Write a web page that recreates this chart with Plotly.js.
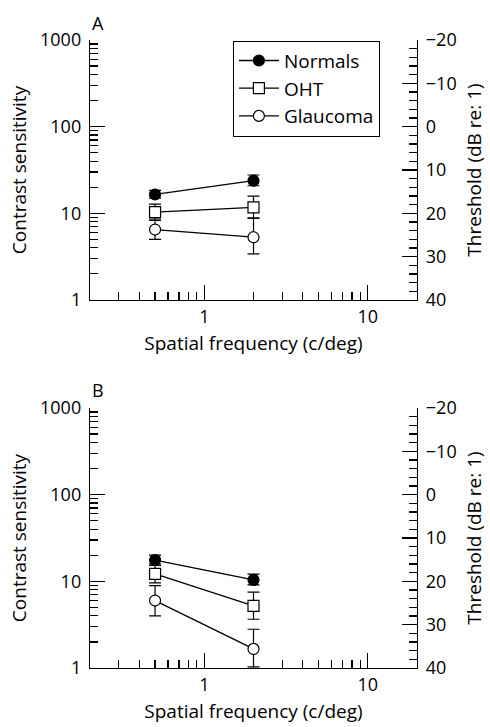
<!DOCTYPE html>
<html>
<head>
<meta charset="utf-8">
<script src="https://cdn.plot.ly/plotly-3.0.1.min.js"></script>
<style>html,body{margin:0;padding:0;background:#fff;}#chart{width:490px;height:727px;}</style>
</head>
<body>
<div id="chart"></div>
<script>
// Spatial frequencies (c/deg)
const freqs = [0.5, 2];

// Panel A: contrast sensitivity (mean, upper error end, lower error end)
const A_normals      = [16.5, 23.8];
const A_normals_hi   = [18.4, 27.7];
const A_normals_lo   = [15.0, 20.8];
const A_oht          = [10.3, 11.7];
const A_oht_hi       = [12.8, 15.8];
const A_oht_lo       = [8.3, 8.8];
const A_glaucoma     = [6.5, 5.3];
const A_glaucoma_hi  = [8.6, 8.8];
const A_glaucoma_lo  = [5.0, 3.4];

// Panel B
const B_normals      = [17.6, 10.4];
const B_normals_hi   = [20.1, 12.1];
const B_normals_lo   = [15.9, 9.1];
const B_oht          = [12.2, 5.2];
const B_oht_hi       = [15.3, 7.5];
const B_oht_lo       = [9.6, 3.65];
const B_glaucoma     = [6.0, 1.66];
const B_glaucoma_hi  = [8.9, 2.8];
const B_glaucoma_lo  = [4.0, 1.03];

const seriesNames = ['Normals', 'OHT', 'Glaucoma'];
const panelLabels = ['A', 'B'];

// Axis tick labels
const xTickVals = [1, 10];
const xTickText = ['1', '10'];
const xMinorVals = [0.2,0.3,0.4,0.5,0.6,0.7,0.8,0.9,2,3,4,5,6,7,8,9,20];
const yTickVals = [1, 10, 100, 1000];
const yTickText = ['1', '10', '100', '1000'];
const yMinorVals = [2,3,4,5,6,7,8,9,20,30,40,50,60,70,80,90,200,300,400,500,600,700,800,900];
const dbTickVals = [-20, -10, 0, 10, 20, 30, 40];
const dbTickText = ['\u221220', '\u221210', '0', '10', '20', '30', '40'];

const diff = (a, b) => a.map((v, i) => Math.abs(v - b[i]));

const markerStyles = [
  {symbol: 'circle', color: 'black'},
  {symbol: 'square', color: 'white'},
  {symbol: 'circle', color: 'white'}
];

function makeTrace(idx, y, hi, lo, xa, ya, showleg) {
  return {
    x: freqs, y: y, xaxis: xa, yaxis: ya,
    type: 'scatter', mode: 'lines+markers',
    name: seriesNames[idx], showlegend: showleg, legendgroup: seriesNames[idx],
    line: {color: 'black', width: 1.3},
    marker: {symbol: markerStyles[idx].symbol, color: markerStyles[idx].color, size: 11,
             line: {color: 'black', width: 1.2}},
    error_y: {type: 'data', symmetric: false, array: diff(hi, y), arrayminus: diff(y, lo),
              color: 'black', thickness: 1.2, width: 6}
  };
}

const data = [
  makeTrace(0, A_normals, A_normals_hi, A_normals_lo, 'x', 'y', true),
  makeTrace(1, A_oht, A_oht_hi, A_oht_lo, 'x', 'y', true),
  makeTrace(2, A_glaucoma, A_glaucoma_hi, A_glaucoma_lo, 'x', 'y', true),
  makeTrace(0, B_normals, B_normals_hi, B_normals_lo, 'x2', 'y3', false),
  makeTrace(1, B_oht, B_oht_hi, B_oht_lo, 'x2', 'y3', false),
  makeTrace(2, B_glaucoma, B_glaucoma_hi, B_glaucoma_lo, 'x2', 'y3', false),
  {x: [], y: [], xaxis: 'x', yaxis: 'y2', type: 'scatter', mode: 'markers', showlegend: false, hoverinfo: 'skip'},
  {x: [], y: [], xaxis: 'x2', yaxis: 'y4', type: 'scatter', mode: 'markers', showlegend: false, hoverinfo: 'skip'}
];

const FONT = 'Open Sans, Noto Sans, Arial, sans-serif';
const LW = 1.2;

function xAxis(anchor) {
  return {
    type: 'log', range: [Math.log10(0.2), Math.log10(20)], domain: [0, 1], anchor: anchor,
    tickvals: xTickVals, ticktext: xTickText, ticks: 'inside', ticklen: 15, tickwidth: LW,
    tickcolor: 'black', showline: true, linewidth: LW, linecolor: 'black', mirror: false,
    showgrid: false, zeroline: false, tickfont: {size: 18},
    minor: {tickvals: xMinorVals, ticks: 'inside', ticklen: 8, tickwidth: LW, tickcolor: 'black', showgrid: false},
    title: {text: 'Spatial frequency (c/deg)', font: {size: 19}, standoff: 10}
  };
}
function yAxis(anchor, domain) {
  return {
    type: 'log', range: [0, 3], domain: domain, anchor: anchor,
    tickvals: yTickVals, ticktext: yTickText, ticks: 'inside', ticklen: 15, tickwidth: LW,
    tickcolor: 'black', showline: true, linewidth: LW, linecolor: 'black',
    showgrid: false, zeroline: false, tickfont: {size: 18}, ticklabelstandoff: 4,
    minor: {tickvals: yMinorVals, ticks: 'inside', ticklen: 8, tickwidth: LW, tickcolor: 'black', showgrid: false},
    title: {text: 'Contrast sensitivity', font: {size: 19}, standoff: 8}
  };
}
function dbAxis(anchor, over) {
  return {
    overlaying: over, side: 'right', anchor: anchor, range: [40, -20],
    tickvals: dbTickVals, ticktext: dbTickText, ticks: 'inside', ticklen: 15, tickwidth: LW,
    tickcolor: 'black', showline: true, linewidth: LW, linecolor: 'black',
    showgrid: false, zeroline: false, tickfont: {size: 18}, ticklabelstandoff: 4,
    minor: {dtick: 2, ticks: 'inside', ticklen: 8, tickwidth: LW, tickcolor: 'black', showgrid: false},
    title: {text: 'Threshold (dB re: 1)', font: {size: 19}, standoff: 12}
  };
}

const layout = {
  width: 490, height: 727,
  margin: {l: 90, r: 73, t: 40, b: 59},
  paper_bgcolor: 'white', plot_bgcolor: 'white',
  font: {family: FONT, size: 18, color: 'black'},
  showlegend: true,
  legend: {x: 0.437, y: 0.999, xanchor: 'left', yanchor: 'top', bordercolor: 'black', borderwidth: 1,
           bgcolor: 'white', font: {size: 19}, itemwidth: 40, tracegroupgap: 0},
  xaxis: xAxis('y'),
  xaxis2: xAxis('y3'),
  yaxis: yAxis('x', [0.586, 1]),
  yaxis2: dbAxis('x', 'y'),
  yaxis3: yAxis('x2', [0, 0.414]),
  yaxis4: dbAxis('x2', 'y3'),
  annotations: [
    {text: panelLabels[0], xref: 'paper', yref: 'paper', x: 0, y: 1.027, xanchor: 'left', yanchor: 'middle', showarrow: false, font: {size: 18}},
    {text: panelLabels[1], xref: 'paper', yref: 'paper', x: 0, y: 0.443, xanchor: 'left', yanchor: 'middle', showarrow: false, font: {size: 18}}
  ]
};

Plotly.newPlot('chart', data, layout, {staticPlot: true, displayModeBar: false});
</script>
</body>
</html>
